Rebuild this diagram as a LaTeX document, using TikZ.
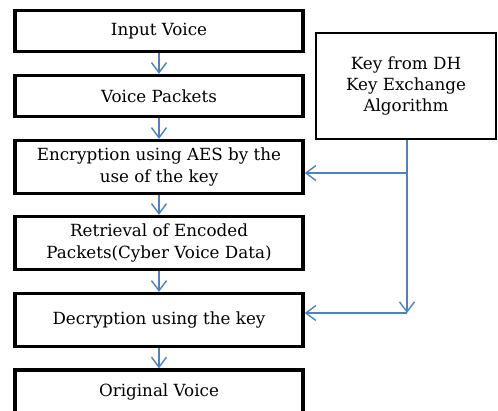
\documentclass[tikz,border=0pt]{standalone}
\usepackage{fontspec}
\setmainfont{DejaVu Serif}
\usetikzlibrary{arrows.meta}
\definecolor{linkblue}{RGB}{79,129,189}
\tikzset{
  flowbox/.style={draw=black, line width=3.5bp, fill=white, minimum width=288bp, inner sep=0pt, align=center, font=\fontsize{16.8}{22}\selectfont},
  keybox/.style={draw=black, line width=2.5bp, fill=white, minimum width=180bp, minimum height=106bp, inner sep=0pt, align=center, font=\fontsize{16.8}{21}\selectfont},
  flow/.style={draw=linkblue, line width=1.4bp, -{Straight Barb[length=10bp, width=15bp, line width=1.4bp]}}
}
\begin{document}
\begin{tikzpicture}[x=1bp, y=-1bp]
\useasboundingbox (0,0) rectangle (498,410);
\node[flowbox, minimum height=41bp] (b1) at (159,31) {Input Voice};
\node[flowbox, minimum height=41bp] (b2) at (159,96) {Voice Packets};
\node[flowbox, minimum height=53bp] (b3) at (159,167) {Encryption using AES by the\\use of the key};
\node[flowbox, minimum height=53bp] (b4) at (159,243) {Retrieval of Encoded\\Packets(Cyber Voice Data)};
\node[flowbox, minimum height=53bp] (b5) at (159,320) {Decryption using the key};
\node[flowbox, minimum height=44bp] (b6) at (159,392) {Original Voice};
\node[keybox] (key) at (406,86) {Key from DH\\Key Exchange\\Algorithm};
\coordinate (j1) at (407,173);
\coordinate (j2) at (407,313);
\draw[flow] (b1) -- (b2);
\draw[flow] (b2) -- (b3);
\draw[flow] (b3) -- (b4);
\draw[flow] (b4) -- (b5);
\draw[flow] (b5) -- (b6);
\draw[flow] (key.south -| j1) -- (j2);
\draw[flow] (j1) -- (j1 -| b3.east);
\draw[flow] (j2) -- (j2 -| b5.east);
\end{tikzpicture}
\end{document}
